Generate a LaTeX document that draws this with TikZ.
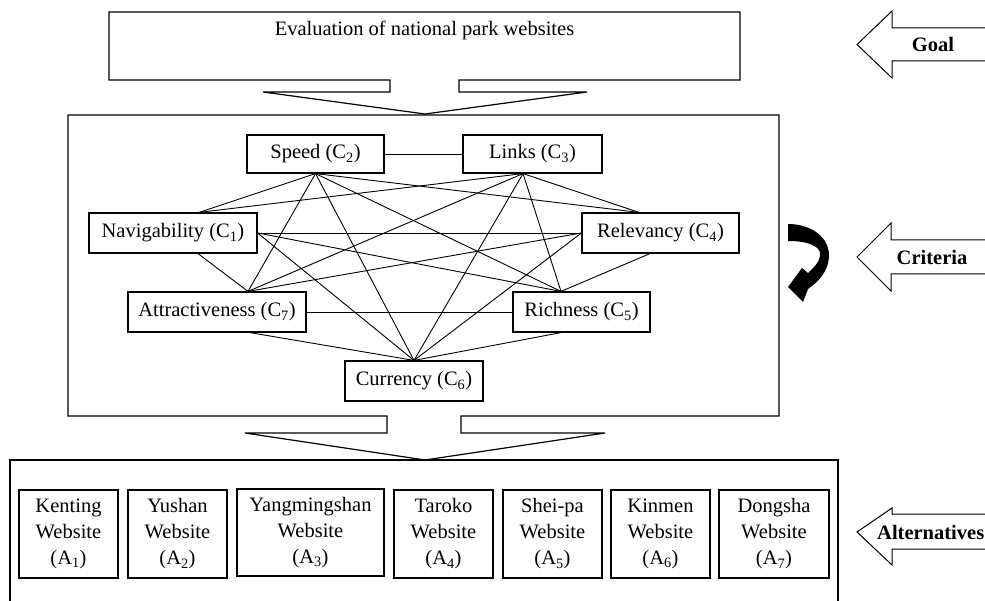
\documentclass[tikz,border=0pt]{standalone}
\usepackage{fontspec}
\setmainfont{Liberation Serif}
\usetikzlibrary{calc}
\begin{document}
\begin{tikzpicture}[x=1pt,y=-1pt,
  every node/.style={font=\fontsize{20.5}{26}\selectfont},
  cbox/.style={draw, line width=1.2pt, inner sep=0pt, minimum height=40pt, align=center},
  abox/.style={draw, line width=1.2pt, inner sep=0pt, minimum width=99pt, minimum height=88pt, align=center},
  frame/.style={draw, line width=1.2pt, line join=miter},
  link/.style={draw, line width=0.9pt},
  side/.style={draw, line width=1pt, line join=miter},
  sidelabel/.style={font=\fontsize{20.5}{26}\selectfont\bfseries}
]
\useasboundingbox (0,0) rectangle (985,601);
\clip (0,0) rectangle (985,601);

% goal level
\draw[frame] (109,12) -- (740,12) -- (740,80) -- (459,80) -- (459,92) -- (587,92) -- (425,114)
  -- (263,92) -- (390,92) -- (390,80) -- (109,80) -- cycle;
\node (goal) at (424.5,30) {Evaluation of national park websites};

% criteria level
\draw[frame] (68,115) -- (779,115) -- (779,416) -- (461,416) -- (461,433) -- (605,433) -- (425,460)
  -- (245,433) -- (387,433) -- (387,416) -- (68,416) -- cycle;

\node[cbox, minimum width=137pt, minimum height=38pt] (Speed) at (315.5,154) {Speed (C\textsubscript{2})};
\node[cbox, minimum width=139pt, minimum height=38pt] (Links) at (532.5,154) {Links (C\textsubscript{3})};
\node[cbox, minimum width=168pt] (Nav) at (173,233) {Navigability (C\textsubscript{1})};
\node[cbox, minimum width=157pt] (Rel) at (660.5,233) {Relevancy (C\textsubscript{4})};
\node[cbox, minimum width=178pt] (Attr) at (217,312) {Attractiveness (C\textsubscript{7})};
\node[cbox, minimum width=137pt] (Rich) at (581.5,312) {Richness (C\textsubscript{5})};
\node[cbox, minimum width=138pt] (Curr) at (414,381) {Currency (C\textsubscript{6})};

\coordinate (SpB) at (Speed.south);
\coordinate (LiB) at ($(Links.south)+(-9.5,0)$);
\coordinate (NaT) at ($(Nav.north)+(26,0)$);
\coordinate (NaB) at ($(Nav.south)+(25,0)$);
\coordinate (ReT) at ($(Rel.north)+(-21.5,0)$);
\coordinate (ReB) at ($(Rel.south)+(-10.5,0)$);
\coordinate (AtT) at ($(Attr.north)+(31,0)$);
\coordinate (AtB) at ($(Attr.south)+(33,0)$);
\coordinate (RiT) at ($(Rich.north)+(-20.5,0)$);
\coordinate (RiB) at ($(Rich.south)+(-20.5,0)$);
\coordinate (CuT) at (Curr.north);

\draw[link] (Speed.east) -- (Links.west);
\draw[link] (SpB) -- (NaT);
\draw[link] (SpB) -- (ReT);
\draw[link] (SpB) -- (AtT);
\draw[link] (SpB) -- (RiT);
\draw[link] (SpB) -- (CuT);
\draw[link] (LiB) -- (NaT);
\draw[link] (LiB) -- (ReT);
\draw[link] (LiB) -- (AtT);
\draw[link] (LiB) -- (RiT);
\draw[link] (LiB) -- (CuT);
\draw[link] (Nav.east) -- (Rel.west);
\draw[link] (NaB) -- (AtT);
\draw[link] (Nav.east) -- (RiT);
\draw[link] (Nav.east) -- (CuT);
\draw[link] (Rel.west) -- (AtT);
\draw[link] (ReB) -- (RiT);
\draw[link] (Rel.west) -- (CuT);
\draw[link] (Attr.east) -- (Rich.west);
\draw[link] (AtB) -- (CuT);
\draw[link] (RiB) -- (CuT);

% curved feedback arrow
\fill (788,224) .. controls (812,224) and (830,238) .. (829,257)
  .. controls (828,272) and (818,282) .. (808,289) -- (803,302) -- (788,287) -- (802,268) -- (808,273)
  .. controls (816,266) and (821,259) .. (820,253)
  .. controls (819,246) and (808,241) .. (788,241) -- cycle;

% alternatives level
\draw[frame] (10,620) -- (10,460) -- (838,460) -- (838,620);
\node[abox] (A1) at (68.5,534) {Kenting\\Website\\(A\textsubscript{1})};
\node[abox] (A2) at (177.5,534) {Yushan\\Website\\(A\textsubscript{2})};
\node[abox, minimum width=147pt, minimum height=87pt] (A3) at (310.5,532.5) {Yangmingshan\\Website\\(A\textsubscript{3})};
\node[abox] (A4) at (443.5,534) {Taroko\\Website\\(A\textsubscript{4})};
\node[abox] (A5) at (552.5,534) {Shei-pa\\Website\\(A\textsubscript{5})};
\node[abox] (A6) at (660.5,534) {Kinmen\\Website\\(A\textsubscript{6})};
\node[abox, minimum width=110pt] (A7) at (774,534) {Dongsha\\Website\\(A\textsubscript{7})};

% side arrows
\draw[side] (1000,28) -- (892,28) -- (892,11) -- (857,44.5) -- (892,78) -- (892,61) -- (1000,61);
\node[sidelabel] (goallab) at (933,44) {Goal};
\draw[side] (1000,240) -- (891,240) -- (891,223) -- (857,257) -- (891,291) -- (891,274) -- (1000,274);
\node[sidelabel] (critlab) at (932,257) {Criteria};
\draw[side] (1000,514) -- (892,514) -- (892,508) -- (857,532) -- (892,565) -- (892,549) -- (1000,549);
\node[sidelabel, anchor=west, inner sep=0pt] (altlab) at (877,532) {Alternatives};
\end{tikzpicture}
\end{document}
